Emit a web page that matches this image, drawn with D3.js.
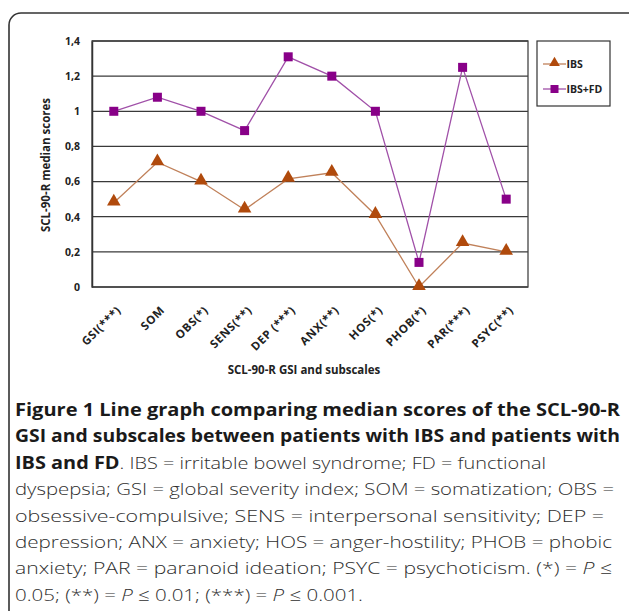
<!DOCTYPE html>
<html>
<head>
    <meta charset="utf-8">
    <title>SCL-90-R median scores</title>
    <script src="https://d3js.org/d3.v7.min.js"></script>
    <style>
        body { margin: 0; background: #fff; }
        svg { display: block; }
    </style>
</head>
<body>
    <script>
        const categories = ["GSI(***)", "SOM", "OBS(*)", "SENS(**)", "DEP (***)", "ANX(**)", "HOS(*)", "PHOB(*)", "PAR(***)", "PSYC(**)"];
        const ibs = [0.48, 0.71, 0.60, 0.44, 0.615, 0.65, 0.41, 0.0, 0.25, 0.20];
        const ibsFd = [1.0, 1.08, 1.0, 0.89, 1.31, 1.2, 1.0, 0.14, 1.25, 0.5];
        const yTicks = [0, 0.2, 0.4, 0.6, 0.8, 1, 1.2, 1.4];
        const seriesNames = ["IBS", "IBS+FD"];

        const width = 629;
        const height = 611;
        const plotLeft = 92, plotRight = 528, plotTop = 41, plotBottom = 287;

        const chartFont = "'Open Sans', 'Noto Sans', sans-serif";
        const ibsColor = "#b04a0c";
        const ibsLine = "#c0815a";
        const fdColor = "#880088";
        const fdLine = "#a050a8";

        const svg = d3.select("body").append("svg")
            .attr("width", width)
            .attr("height", height);

        // outer frame
        svg.append("rect")
            .attr("x", 9).attr("y", 13)
            .attr("width", 640).attr("height", 620)
            .attr("rx", 12)
            .attr("fill", "none")
            .attr("stroke", "#333")
            .attr("stroke-width", 1.6);

        const xScale = d3.scaleBand().domain(categories).range([plotLeft, plotRight]);
        const yScale = d3.scaleLinear().domain([0, 1.4]).range([plotBottom, plotTop]);
        const cx = d => xScale(d) + xScale.bandwidth() / 2;

        // gridlines
        svg.append("g")
            .selectAll("line")
            .data(yTicks)
            .join("line")
            .attr("x1", plotLeft).attr("x2", plotRight)
            .attr("y1", d => yScale(d)).attr("y2", d => yScale(d))
            .attr("stroke", "#3a3a3a")
            .attr("stroke-width", 1.3);

        svg.append("rect")
            .attr("x", plotLeft).attr("y", plotTop)
            .attr("width", plotRight - plotLeft).attr("height", plotBottom - plotTop)
            .attr("fill", "none")
            .attr("stroke", "#444")
            .attr("stroke-width", 1.3);

        // y axis
        const yAxis = d3.axisLeft(yScale)
            .tickValues(yTicks)
            .tickSize(0)
            .tickPadding(12)
            .tickFormat(d => String(d).replace(".", ","));
        const yg = svg.append("g").attr("transform", "translate(" + plotLeft + ",0)").call(yAxis);
        yg.select(".domain").attr("stroke", "#333").attr("stroke-width", 1.5);
        yg.selectAll("text")
            .style("font-family", chartFont)
            .style("font-size", "10.5px")
            .style("font-weight", "bold")
            .attr("fill", "#222");

        // x axis labels
        const xAxis = d3.axisBottom(xScale).tickSize(0).tickPadding(0);
        const xg = svg.append("g").attr("transform", "translate(0," + plotBottom + ")").call(xAxis);
        xg.select(".domain").remove();
        xg.selectAll("text")
            .style("font-family", chartFont)
            .style("font-size", "11.5px")
            .style("font-weight", "bold")
            .style("letter-spacing", "0.6px")
            .attr("fill", "#222")
            .attr("text-anchor", "end")
            .attr("dy", 0)
            .attr("transform", "translate(8,24) rotate(-45)");

        // axis titles
        svg.append("text")
            .attr("transform", "translate(50," + ((plotTop + plotBottom) / 2 + 1) + ") rotate(-90)")
            .attr("text-anchor", "middle")
            .style("font-family", chartFont)
            .style("font-size", "11.5px")
            .style("font-weight", "bold")
            .attr("fill", "#222")
            .text("SCL-90-R median scores");

        svg.append("text")
            .attr("x", 304).attr("y", 374)
            .attr("text-anchor", "middle")
            .style("font-family", chartFont)
            .style("font-size", "11.5px")
            .style("font-weight", "bold")
            .attr("fill", "#222")
            .text("SCL-90-R GSI and subscales");

        // lines
        const line = d3.line()
            .x((d, i) => cx(categories[i]))
            .y(d => yScale(d));

        svg.append("path").datum(ibs)
            .attr("fill", "none").attr("stroke", ibsLine).attr("stroke-width", 1.3)
            .attr("d", line);
        svg.append("path").datum(ibsFd)
            .attr("fill", "none").attr("stroke", fdLine).attr("stroke-width", 1.3)
            .attr("d", line);

        const tri = d3.symbol().type(d3.symbolTriangle).size(80);
        svg.append("g").selectAll("path")
            .data(ibs)
            .join("path")
            .attr("d", tri)
            .attr("transform", (d, i) => "translate(" + cx(categories[i]) + "," + (yScale(d) - 1) + ")")
            .attr("fill", ibsColor);

        svg.append("g").selectAll("rect")
            .data(ibsFd)
            .join("rect")
            .attr("x", (d, i) => cx(categories[i]) - 4.5)
            .attr("y", d => yScale(d) - 4.5)
            .attr("width", 9).attr("height", 9)
            .attr("fill", fdColor);

        // legend
        const legend = svg.append("g");
        legend.append("rect")
            .attr("x", 537).attr("y", 41)
            .attr("width", 73).attr("height", 65)
            .attr("fill", "#fff")
            .attr("stroke", "#333")
            .attr("stroke-width", 1.2);
        const legendRows = [
            { name: seriesNames[0], y: 64, color: ibsColor, lineColor: ibsLine, shape: "tri" },
            { name: seriesNames[1], y: 89, color: fdColor, lineColor: fdLine, shape: "sq" }
        ];
        legendRows.forEach(r => {
            legend.append("line")
                .attr("x1", 543).attr("x2", 566)
                .attr("y1", r.y).attr("y2", r.y)
                .attr("stroke", r.lineColor).attr("stroke-width", 1.3);
            if (r.shape === "tri") {
                legend.append("path")
                    .attr("d", d3.symbol().type(d3.symbolTriangle).size(50))
                    .attr("transform", "translate(554.5," + (r.y - 1) + ")")
                    .attr("fill", r.color);
            } else {
                legend.append("rect")
                    .attr("x", 550.5).attr("y", r.y - 4)
                    .attr("width", 8).attr("height", 8)
                    .attr("fill", r.color);
            }
            legend.append("text")
                .attr("x", 566.5).attr("y", r.y + 4)
                .style("font-family", chartFont)
                .style("font-size", "10.5px")
                .style("font-weight", "bold")
                .attr("fill", "#222")
                .text(r.name);
        });

        // caption
        const capFont = "'Open Sans', 'Noto Sans', sans-serif";
        const captionLines = [
            { parts: [{ t: "Figure 1 Line graph comparing median scores of the SCL-90-R", b: true }], end: 620 },
            { parts: [{ t: "GSI and subscales between patients with IBS and patients with", b: true }], end: 620 },
            { parts: [{ t: "IBS and FD", b: true }, { t: ". IBS = irritable bowel syndrome; FD = functional", b: false }], end: 546 },
            { parts: [{ t: "dyspepsia; GSI = global severity index; SOM = somatization; OBS =", b: false }], end: 614 },
            { parts: [{ t: "obsessive-compulsive; SENS = interpersonal sensitivity; DEP =", b: false }], end: 604 },
            { parts: [{ t: "depression; ANX = anxiety; HOS = anger-hostility; PHOB = phobic", b: false }], end: 612 },
            { parts: [{ t: "anxiety; PAR = paranoid ideation; PSYC = psychoticism. (*) = ", b: false }, { t: "P", b: false, i: true }, { t: " \u2264", b: false }], end: 612 },
            { parts: [{ t: "0.05; (**) = ", b: false }, { t: "P", i: true }, { t: " \u2264 0.01; (***) = " }, { t: "P", i: true }, { t: " \u2264 0.001." }], end: 363 }
        ];
        const capX = 15;
        captionLines.forEach((ln, k) => {
            const t = svg.append("text")
                .attr("x", capX)
                .attr("y", 416 + k * 26.4)
                .style("font-family", capFont)
                .style("font-size", "17px")
                .style("white-space", "pre");
            ln.parts.forEach(p => {
                t.append("tspan")
                    .text(p.t)
                    .style("font-weight", p.b ? "bold" : "300")
                    .style("font-style", p.i ? "italic" : "normal")
                    .attr("fill", p.b ? "#1a1a1a" : "#2e2e2e");
            });
            t.attr("textLength", ln.end - capX).attr("lengthAdjust", "spacingAndGlyphs");
        });
    </script>
</body>
</html>
